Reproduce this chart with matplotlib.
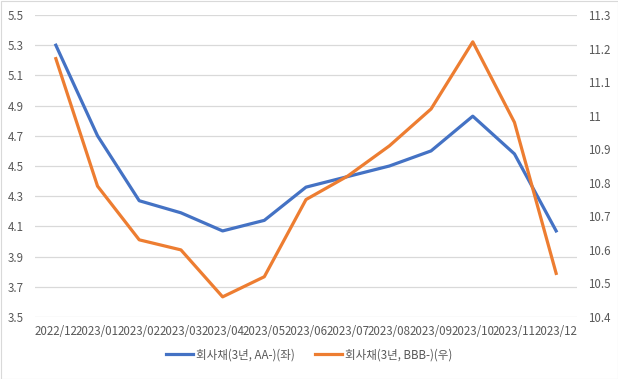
import matplotlib.pyplot as plt
from matplotlib.patches import Rectangle

plt.rcParams['font.family'] = ['Noto Sans CJK KR', 'DejaVu Sans']

months = ['2022/12', '2023/01', '2023/02', '2023/03', '2023/04', '2023/05', '2023/06',
          '2023/07', '2023/08', '2023/09', '2023/10', '2023/11', '2023/12']
aa = [5.30, 4.70, 4.27, 4.19, 4.07, 4.14, 4.36, 4.43, 4.50, 4.60, 4.83, 4.58, 4.07]
bbb = [11.17, 10.79, 10.63, 10.60, 10.46, 10.52, 10.75, 10.82, 10.91, 11.02, 11.22, 10.98, 10.53]

left_ticks = [3.5, 3.7, 3.9, 4.1, 4.3, 4.5, 4.7, 4.9, 5.1, 5.3, 5.5]
right_ticks = [10.4, 10.5, 10.6, 10.7, 10.8, 10.9, 11.0, 11.1, 11.2, 11.3]
right_labels = ['10.4', '10.5', '10.6', '10.7', '10.8', '10.9', '11', '11.1', '11.2', '11.3']

fig = plt.figure(figsize=(6.18, 3.79), dpi=100)
fig.patches.append(Rectangle((0.5 / 618, 0.5 / 379), 1 - 1 / 618, 1 - 1 / 379,
                             transform=fig.transFigure, fill=False,
                             edgecolor='#d9d9d9', linewidth=0.8))
ax = fig.add_axes([35 / 618, 1 - 317 / 379, 542 / 618, 302 / 379])
ax2 = ax.twinx()

x = list(range(len(months)))
l1, = ax.plot(x, aa, color='#4472C4', lw=2.3, label='회사채(3년, AA-)(좌)', zorder=3)
l2, = ax2.plot(x, bbb, color='#ED7D31', lw=2.3, label='회사채(3년, BBB-)(우)', zorder=3)

ax.set_xlim(-0.5, 12.5)
ax.set_ylim(3.5, 5.5)
ax2.set_ylim(10.4, 11.3)
ax.set_yticks(left_ticks)
ax.set_yticklabels([f'{v:.1f}' for v in left_ticks])
ax2.set_yticks(right_ticks)
ax2.set_yticklabels(right_labels)
ax.set_xticks(x)
ax.set_xticklabels(months)

ax.grid(axis='y', color='#d9d9d9', lw=0.9)
ax.set_axisbelow(True)
for a in (ax, ax2):
    for s in a.spines.values():
        s.set_visible(False)
    a.tick_params(length=0, labelsize=8.3, colors='#595959')
ax.tick_params(axis='x', pad=6)
ax.tick_params(axis='y', pad=8)
ax2.tick_params(axis='y', pad=8)

fig.legend(handles=[l1, l2], loc='center', bbox_to_anchor=(0.5, 1 - 355 / 379),
           ncol=2, frameon=False, fontsize=8.3, handlelength=2.35, handletextpad=0.25,
           columnspacing=1.8, labelcolor='#595959')

fig.savefig('out.png', dpi=100)
